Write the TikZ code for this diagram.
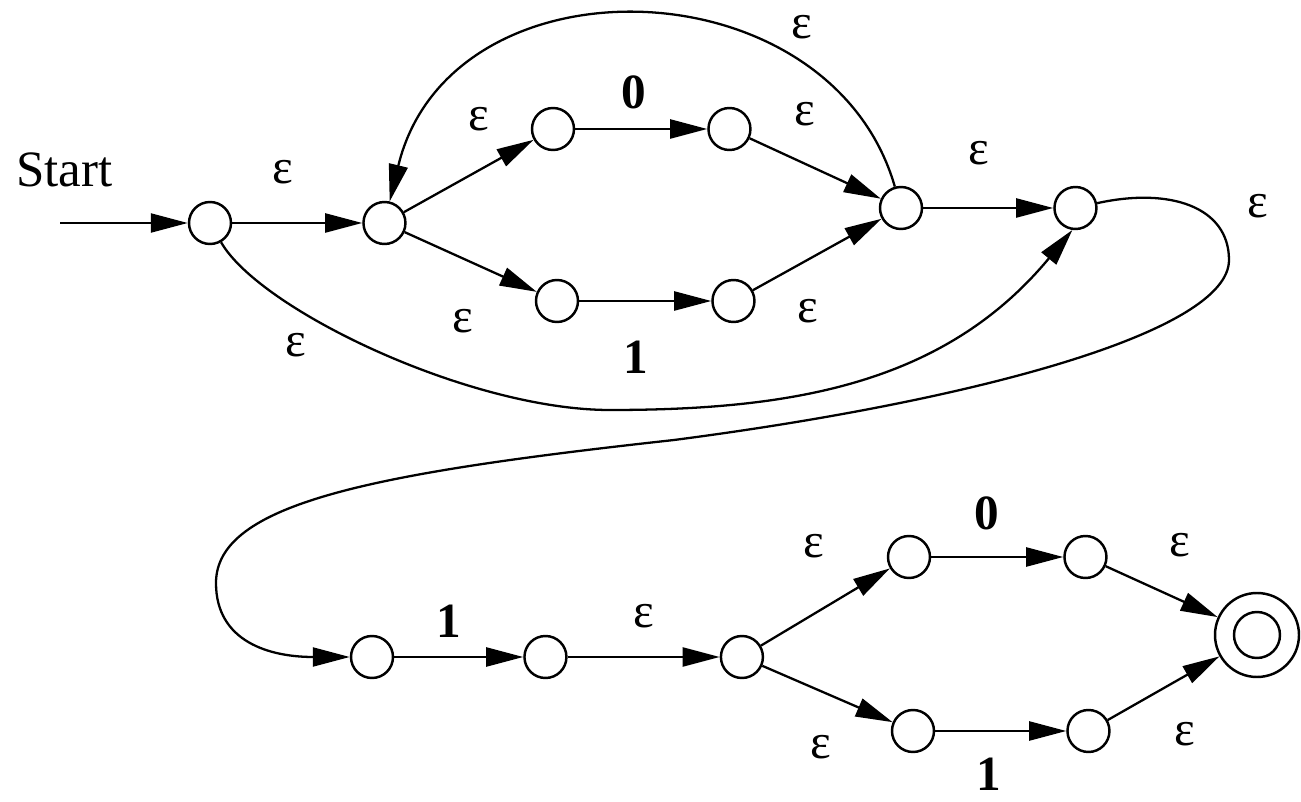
\documentclass[tikz,border=0pt]{standalone}
\usepackage{fontspec}
\setmainfont{Liberation Serif}
\usepackage{tikz}
\usetikzlibrary{automata, positioning, arrows.meta}

\begin{document}
\begin{tikzpicture}[
    st/.style={state, minimum size=4.2mm, inner sep=0pt, line width=0.7pt},
    final/.style={st, minimum size=8.4mm, path picture={\draw[line width=0.7pt] (path picture bounding box.center) circle (2.3mm);}},
    arrow/.style={-{Triangle[length=3.7mm, width=1.9mm]}, line width=0.65pt},
    lbl/.style={inner sep=0pt, font=\fontsize{14}{16}\selectfont},
    sym/.style={inner sep=0pt, font=\fontsize{14}{16}\selectfont\bfseries}
]
\useasboundingbox (0,0) rectangle (13.01,8.02);

% Upper automaton
\node[st] (q0) at (2.10,5.79) {};
\node[st, right=1.3cm of q0] (q1) {};
\node[st] (q2) at (5.53,6.73) {};
\node[st, right=1.32cm of q2] (q3) {};
\node[st] (q4) at (5.57,5.01) {};
\node[st, right=1.32cm of q4] (q5) {};
\node[st] (q6) at (9.01,5.94) {};
\node[st, right=1.3cm of q6] (q7) {};

% Lower automaton
\node[st] (q8) at (3.72,1.45) {};
\node[st, right=1.29cm of q8] (q9) {};
\node[st, right=1.52cm of q9] (q10) {};
\node[st] (q11) at (9.09,2.45) {};
\node[st, right=1.32cm of q11] (q12) {};
\node[st] (q13) at (9.13,0.71) {};
\node[st, right=1.31cm of q13] (q14) {};
\node[final] (q15) at (12.57,1.67) {};

% Start
\node[lbl, font=\fontsize{14.5}{16}\selectfont] (start) at (0.645,6.32) {Start};
\coordinate (in) at (0.60,5.79);
\draw[arrow] (in) -- (q0);

% Upper arrows
\draw[arrow] (q0) -- node[lbl, above=3.8mm, xshift=-1.4mm] {ε} (q1);
\draw[arrow] (q1) -- node[lbl, above=4.4mm, xshift=1mm] {ε} (q2);
\draw[arrow] (q2) -- node[sym, above=1.9mm, xshift=-0.7mm] {0} (q3);
\draw[arrow] (q3) -- node[lbl, above=4.1mm, xshift=-1mm] {ε} (q6);
\draw[arrow] (q1) -- node[lbl, below=4.6mm, xshift=-0.8mm] {ε} (q4);
\draw[arrow] (q4) -- node[sym, below=3.9mm, xshift=-0.9mm] {1} (q5);
\draw[arrow] (q5) -- node[lbl, below=4.4mm, xshift=-0.9mm] {ε} (q6);
\draw[arrow] (q6) -- node[lbl, above=4.2mm, xshift=-0.9mm] {ε} (q7);
\draw[arrow] (q6) .. controls (8.3,8.4) and (4.5,8.5) .. node[lbl, pos=0.25, above=1.9mm, xshift=0.5mm] {ε} (q1);
\draw[arrow] (q0) .. controls (2.6,4.92) and (4.7,3.92) .. node[lbl, pos=0.3, below=2.4mm] {ε} (6.1,3.92)
    .. controls (7.9,3.92) and (9.44,4.17) .. (q7.262);

% Long loop down to the second automaton
\draw[arrow] (q7) .. controls (11.7,6.15) and (12.29,5.95) .. node[lbl, pos=0.75, xshift=3.9mm, yshift=2mm] {ε} (12.29,5.42)
    .. controls (12.29,4.7) and (9.74,4.01) .. (6.74,3.62)
    .. controls (3.74,3.29) and (2.16,2.99) .. (2.16,2.19)
    .. controls (2.16,1.6) and (2.7,1.45) .. (q8);

% Lower arrows
\draw[arrow] (q8) -- node[sym, above=1.8mm, xshift=-1mm] {1} (q9);
\draw[arrow] (q9) -- node[lbl, above=2.8mm] {ε} (q10);
\draw[arrow] (q10) -- node[lbl, above=4.8mm, xshift=-1.2mm] {ε} (q11);
\draw[arrow] (q10) -- node[lbl, below=4mm, xshift=-0.7mm] {ε} (q13);
\draw[arrow] (q11) -- node[sym, above=2.6mm, xshift=-1mm] {0} (q12);
\draw[arrow] (q13) -- node[sym, below=2.6mm, xshift=-1.2mm] {1} (q14);
\draw[arrow] (q12) -- node[lbl, above=3.4mm, xshift=1.8mm] {ε} (q15);
\draw[arrow] (q14) -- node[lbl, below=3.3mm, xshift=2.1mm] {ε} (q15);

\end{tikzpicture}
\end{document}
